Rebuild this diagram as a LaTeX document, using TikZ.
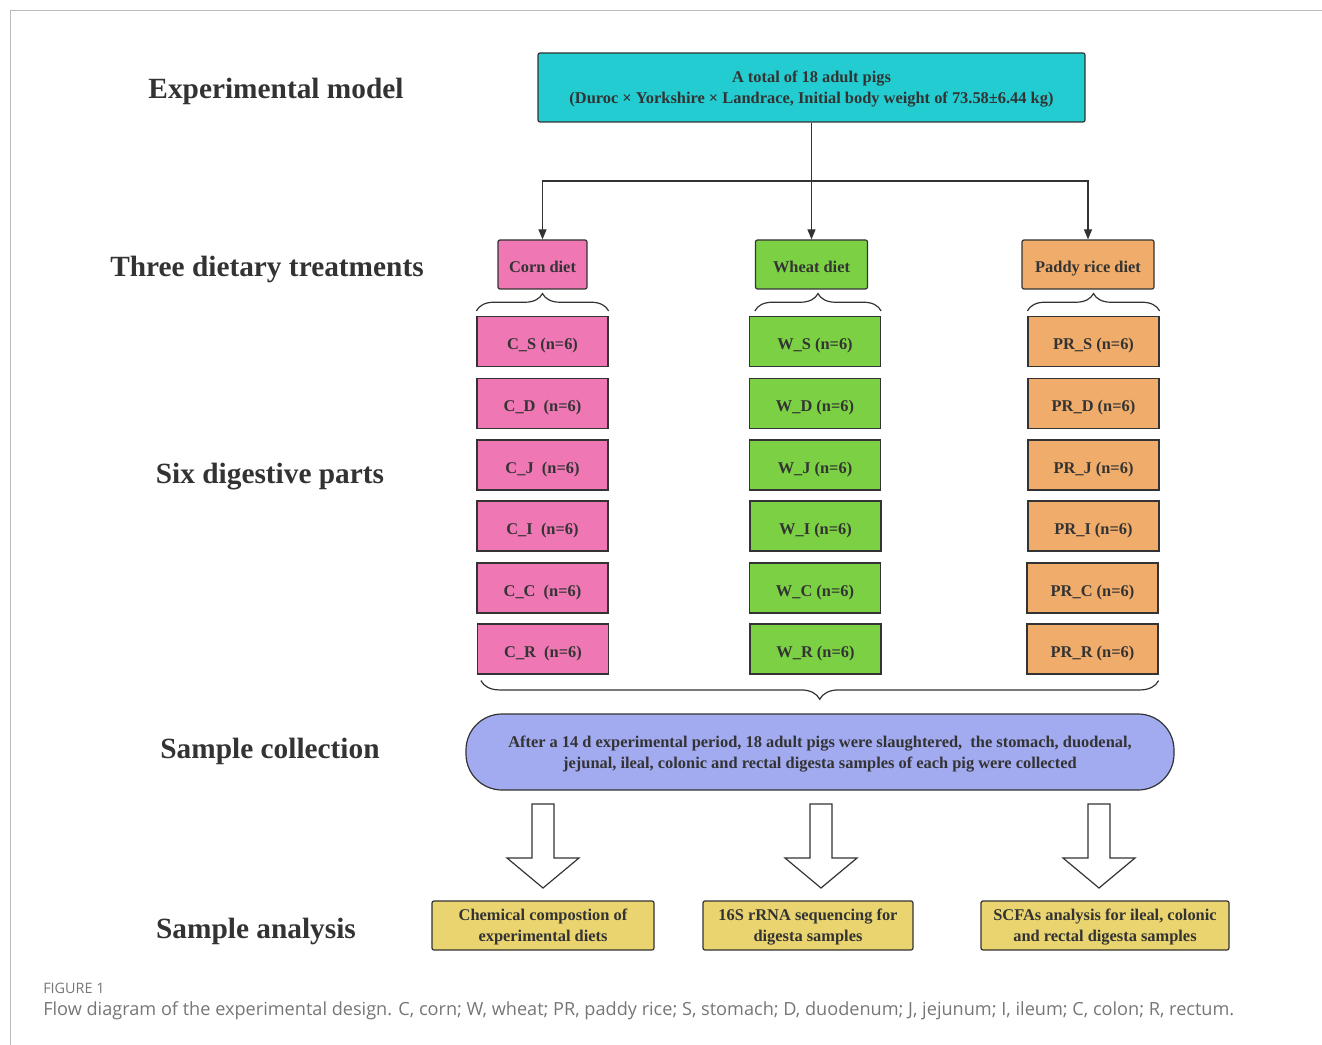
\documentclass[tikz,border=0pt]{standalone}
\usepackage{fontspec}
\setmainfont{Liberation Serif}
\newfontfamily\capfont{Open Sans}
\usetikzlibrary{arrows.meta,decorations.pathreplacing,calc}
\definecolor{txt}{HTML}{333333}
\definecolor{cyanbox}{HTML}{22CCD0}
\definecolor{pinkbox}{HTML}{EE77B4}
\definecolor{greenbox}{HTML}{7BD143}
\definecolor{orangebox}{HTML}{F0AC6A}
\definecolor{lavbox}{HTML}{A3ABF0}
\definecolor{yelbox}{HTML}{E9D46F}
\definecolor{framegray}{HTML}{BBBBBB}
\definecolor{capgray}{HTML}{767676}
\tikzset{
  every node/.style={text=txt,font=\fontsize{12.3}{15.75}\selectfont\bfseries},
  box/.style={draw=txt,line width=0.9pt,rounded corners=1.5pt,inner sep=0pt,align=center,text depth=0pt},
  onebox/.style={box,text height=12.5pt},
  sub/.style={onebox,rounded corners=0pt,minimum width=98.25pt,minimum height=37.5pt},
  lbl/.style={font=\fontsize{22}{26}\selectfont\bfseries,inner sep=0pt},
  conn/.style={draw=txt,line width=0.9pt},
  tip/.style={-{Triangle[length=7.5pt,width=6pt]}},
  bracebig/.style={conn,decorate,decoration={brace,amplitude=14pt,aspect=0.5}},
  bracesmall/.style={conn,decorate,decoration={brace,amplitude=13pt,aspect=0.5}},
  hollow/.style={draw=txt,line width=0.9pt,fill=white},
}
\begin{document}
\begin{tikzpicture}[x=0.75pt,y=-0.75pt]
\useasboundingbox (0,0) rectangle (1322,1045);
% frame
\draw[framegray,line width=1pt] (1322,10.5) -- (10.5,10.5) -- (10.5,1045);

% left labels
\node[lbl] (l1) at (276,91) {Experimental model};
\node[lbl] (l2) at (267,269) {Three dietary treatments};
\node[lbl] (l3) at (270,477) {Six digestive parts};
\node[lbl] (l4) at (270,751) {Sample collection};
\node[lbl] (l5) at (256,931) {Sample analysis};

% top box
\node[box,fill=cyanbox,minimum width=410.25pt,minimum height=51.75pt] (top) at (811.5,87.5)
  {A total of 18 adult pigs\\(Duroc × Yorkshire × Landrace, Initial body weight of 73.58±6.44 kg)};

% diets
\node[onebox,fill=pinkbox,minimum width=66.75pt,minimum height=36.75pt] (corn) at (542.5,264.5) {Corn diet};
\node[onebox,fill=greenbox,minimum width=84pt,minimum height=36.75pt] (wheat) at (811.5,264.5) {Wheat diet};
\node[onebox,fill=orangebox,minimum width=99pt,minimum height=36.75pt] (rice) at (1088,264.5) {Paddy rice diet};

\coordinate (split) at (811.5,181);
\draw[conn] (top.south) -- (split);
\draw[conn,tip] (split) -- (wheat.north);
\draw[conn,tip] (split) -| (corn.north);
\draw[conn,tip] (split) -| (rice.north);

% sub groups
\node[sub,fill=pinkbox] (cS) at (542.5,341.5) {C\_S (n=6)};
\node[sub,fill=pinkbox] (cD) at (542.5,403.5) {C\_D\ \ (n=6)};
\node[sub,fill=pinkbox] (cJ) at (542.5,465) {C\_J\ \ (n=6)};
\node[sub,fill=pinkbox] (cI) at (542.5,526) {C\_I\ \ (n=6)};
\node[sub,fill=pinkbox] (cC) at (542.5,588) {C\_C\ \ (n=6)};
\node[sub,fill=pinkbox] (cR) at (543,649) {C\_R\ \ (n=6)};

\node[sub,fill=greenbox] (wS) at (815,341.5) {W\_S (n=6)};
\node[sub,fill=greenbox] (wD) at (815,403.5) {W\_D (n=6)};
\node[sub,fill=greenbox] (wJ) at (815,465) {W\_J (n=6)};
\node[sub,fill=greenbox] (wI) at (815.5,526) {W\_I (n=6)};
\node[sub,fill=greenbox] (wC) at (815,588) {W\_C (n=6)};
\node[sub,fill=greenbox] (wR) at (815.5,649) {W\_R (n=6)};

\node[sub,fill=orangebox] (pS) at (1093.5,341.5) {PR\_S (n=6)};
\node[sub,fill=orangebox] (pD) at (1093.5,403.5) {PR\_D (n=6)};
\node[sub,fill=orangebox] (pJ) at (1093.5,465) {PR\_J (n=6)};
\node[sub,fill=orangebox] (pI) at (1093.5,526) {PR\_I (n=6)};
\node[sub,fill=orangebox] (pC) at (1092.5,588) {PR\_C (n=6)};
\node[sub,fill=orangebox] (pR) at (1092.5,649) {PR\_R (n=6)};

% small braces
\draw[bracesmall] ($(cS.north west)+(0,-5)$) -- ($(cS.north east)+(0,-5)$);
\draw[bracesmall] ($(wS.north west)+(6,-5)$) -- ($(wS.north east)+(0,-5)$);
\draw[bracesmall] ($(pS.north west)+(0,-5)$) -- ($(pS.north east)+(0,-5)$);

% sample collection
\node[box,fill=lavbox,minimum width=531pt,minimum height=57pt,rounded corners=27pt] (coll) at (820,752)
  {After a 14 d experimental period, 18 adult pigs were slaughtered,\ \ the stomach, duodenal,\\jejunal, ileal, colonic and rectal digesta samples of each pig were collected};

% big brace
\draw[bracebig] ($(pR.south east)+(0,6)$) -- ($(cR.south west |- pR.south)+(4,6)$);

% analysis boxes
\node[box,fill=yelbox,minimum width=166.5pt,minimum height=36.75pt] (a1) at (543,925.5)
  {Chemical compostion of\\experimental diets};
\node[box,fill=yelbox,minimum width=157.5pt,minimum height=36.75pt] (a2) at (808,925.5)
  {16S rRNA sequencing for\\digesta samples};
\node[box,fill=yelbox,minimum width=186pt,minimum height=36.75pt] (a3) at (1105,925.5)
  {SCFAs analysis for ileal, colonic\\and rectal digesta samples};

% hollow arrows
\foreach \cx/\nm in {543/h1,821/h2,1099/h3}{
  \coordinate (\nm) at (\cx,804);
  \draw[hollow] (\nm) ++(-11,0) -- ++(22,0) -- ++(0,54) -- ++(25,0) -- ++(-36,30) -- ++(-36,-30) -- ++(25,0) -- cycle;
}

% caption
\node[anchor=west,inner sep=0pt,text=capgray,font=\capfont\fontsize{10.8}{12}\selectfont] (fig) at (43,988) {FIGURE 1};
\node[anchor=west,inner sep=0pt,text=capgray,font=\capfont\fontsize{13.6}{15}\selectfont] (cap) at (43,1011)
  {Flow diagram of the experimental design. C, corn; W, wheat; PR, paddy rice; S, stomach; D, duodenum; J, jejunum; I, ileum; C, colon; R, rectum.};
\end{tikzpicture}
\end{document}
